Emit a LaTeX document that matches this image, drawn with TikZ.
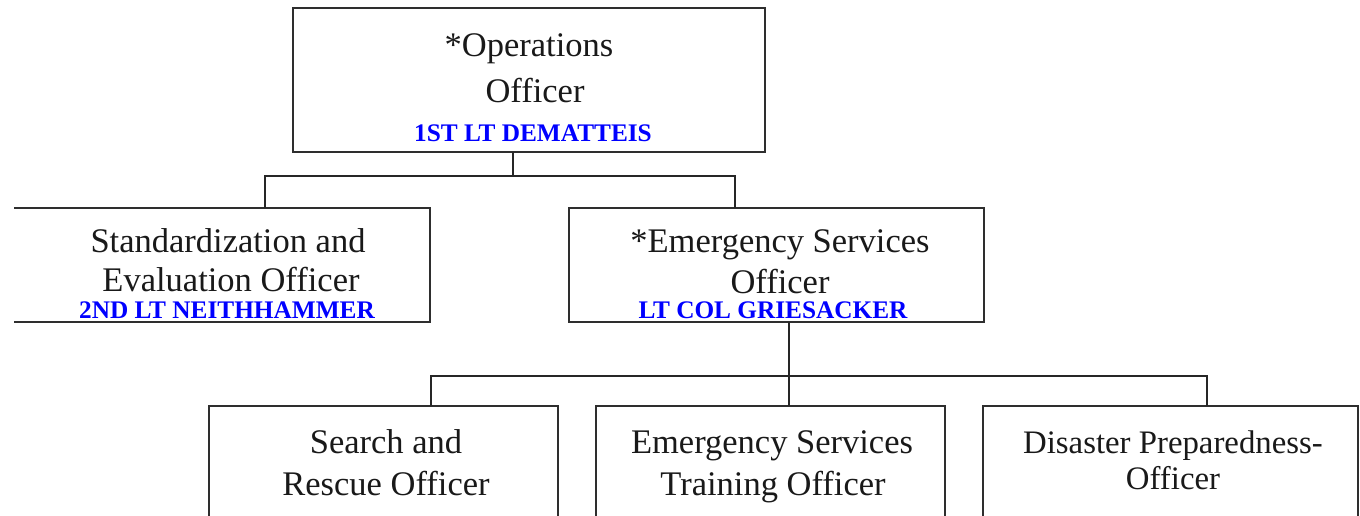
\documentclass[tikz,border=0pt]{standalone}
\usepackage{fontspec}
\setmainfont{Liberation Serif}
\begin{document}
\begin{tikzpicture}[x=1pt,y=-1pt,
  frame/.style={draw=none,inner sep=0pt,outer sep=0pt},
  edge/.style={draw=black!82,line width=2.4pt,line cap=rect,line join=miter},
  conn/.style={draw=black!85,line width=2.2pt},
  ttl/.style={anchor=base,inner sep=0pt,font=\fontsize{34.5}{41}\selectfont,text=black!90},
  ttls/.style={anchor=base,inner sep=0pt,font=\fontsize{32.8}{40}\selectfont,text=black!90},
  nm/.style={anchor=base,inner sep=0pt,font=\fontsize{25.3}{28}\selectfont\bfseries,text={rgb,255:red,0;green,0;blue,255}}]
\useasboundingbox[fill=white] (0,0) rectangle (1360,516);
% boxes (placeholders)
\node[frame,minimum width=472pt,minimum height=144pt] (ops) at (529,80) {};
\node[frame,minimum width=415pt,minimum height=114pt] (std) at (222.5,265) {};
\node[frame,minimum width=415pt,minimum height=114pt] (es) at (776.5,265) {};
\node[frame,minimum width=349pt,minimum height=120pt] (sar) at (383.5,466) {};
\node[frame,minimum width=349pt,minimum height=120pt] (tr) at (770.5,466) {};
\node[frame,minimum width=375pt,minimum height=120pt] (dp) at (1170.5,466) {};
% borders
\draw[edge] (ops.north west) rectangle (ops.south east);
\draw[edge] (std.north west) -- (std.north east) -- (std.south east) -- (std.south west);
\draw[edge] (es.north west) rectangle (es.south east);
\draw[edge] ([yshift=-30pt]sar.south west) -- (sar.north west) -- (sar.north east) -- ([yshift=-30pt]sar.south east);
\draw[edge] ([yshift=-30pt]tr.south west) -- (tr.north west) -- (tr.north east) -- ([yshift=-30pt]tr.south east);
\draw[edge] ([yshift=-30pt]dp.south west) -- (dp.north west) -- (dp.north east) -- ([yshift=-30pt]dp.south east);
% texts
\node[ttl] (opsA) at (529,57) {*Operations};
\node[ttl] (opsB) at (535,103) {Officer};
\node[nm] (opsN) at (533,142) {1ST LT DEMATTEIS};
\node[ttl] (stdA) at (228,252) {Standardization and};
\node[ttl] (stdB) at (231,291) {Evaluation Officer};
\node[nm] (stdN) at (227,318) {2ND LT NEITHHAMMER};
\node[ttl] (esA) at (780,252) {*Emergency Services};
\node[ttl] (esB) at (780,293) {Officer};
\node[nm] (esN) at (773,318) {LT COL GRIESACKER};
\node[ttl] (sarA) at (386,453) {Search and};
\node[ttl] (sarB) at (386,495) {Rescue Officer};
\node[ttl] (trA) at (772,453) {Emergency Services};
\node[ttl] (trB) at (773,495) {Training Officer};
\node[ttls] (dpA) at (1173,453) {Disaster Preparedness-};
\node[ttls] (dpB) at (1173,489) {Officer};
% connectors
\coordinate (j1) at (513,176);
\coordinate (b1l) at (265,176);
\coordinate (b1r) at (735,176);
\draw[conn] (j1 |- ops.south) -- (j1);
\draw[conn] (b1l |- std.north) -- (b1l) -- (b1r) -- (b1r |- es.north);
\coordinate (j2) at (789,376);
\coordinate (b2l) at (431,376);
\coordinate (b2r) at (1207,376);
\draw[conn] (j2 |- es.south) -- (j2 |- tr.north);
\draw[conn] (b2l |- sar.north) -- (b2l) -- (b2r) -- (b2r |- dp.north);
\end{tikzpicture}
\end{document}
